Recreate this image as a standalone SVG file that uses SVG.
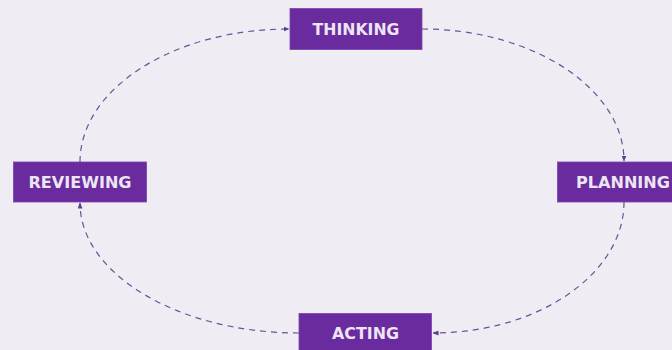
<svg xmlns="http://www.w3.org/2000/svg" width="672" height="350" viewBox="0 0 672 350">
<defs>
<style>
.box{fill:#6a2b9e;stroke:#7a44ad;stroke-width:0.8}
.lbl{font-family:"DejaVu Sans","Liberation Sans",sans-serif;font-weight:bold;font-size:15px;fill:#ece5f3;text-anchor:middle}
.con{fill:none;stroke:#6e4f99;stroke-width:1.2;stroke-dasharray:6 5}
</style>
<marker id="ah" markerWidth="6" markerHeight="5" refX="5.5" refY="2.5" orient="auto" markerUnits="userSpaceOnUse">
<path d="M0,0 L6,2.5 L0,5 z" fill="#5e3f8c"/>
</marker>
</defs>
<rect width="672" height="350" fill="#efedf3"/>
<g id="connectors">
<path class="con" d="M80,162 C80,89 173,29 289,29" marker-end="url(#ah)"/>
<path class="con" d="M422,29 C533,29 624,89 624,161" marker-end="url(#ah)"/>
<path class="con" d="M624,202 C624,274 538,333 433,333" marker-end="url(#ah)"/>
<path class="con" d="M299,333 C179,333 80,274 80,203" marker-end="url(#ah)"/>
</g>
<g id="thinking">
<rect class="box" x="290" y="8.5" width="132" height="41"/>
<text class="lbl" x="356" y="34.5" textLength="87" lengthAdjust="spacingAndGlyphs">THINKING</text>
</g>
<g id="planning">
<rect class="box" x="557.5" y="162" width="132" height="40"/>
<text class="lbl" x="623" y="187.7" textLength="94" lengthAdjust="spacingAndGlyphs">PLANNING</text>
</g>
<g id="reviewing">
<rect class="box" x="13.5" y="162" width="133" height="40"/>
<text class="lbl" x="80" y="187.7" textLength="103" lengthAdjust="spacingAndGlyphs">REVIEWING</text>
</g>
<g id="acting">
<rect class="box" x="299" y="313.5" width="132.5" height="41"/>
<text class="lbl" x="365.5" y="339.2" textLength="67" lengthAdjust="spacingAndGlyphs">ACTING</text>
</g>
</svg>
